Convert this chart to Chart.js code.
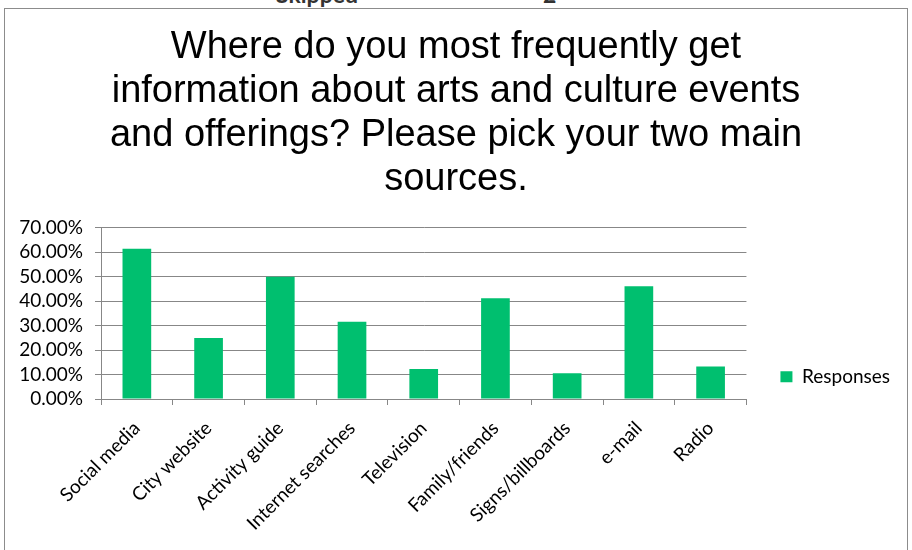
<!DOCTYPE html>
<html>
<head>
<meta charset="utf-8">
<script src="https://cdn.jsdelivr.net/npm/chart.js@4"></script>
<style>
  html, body { margin: 0; padding: 0; background: #fff; }
  #wrap { position: relative; width: 912px; height: 550px; overflow: hidden; }
  #frame { position: absolute; left: 4px; top: 8px; width: 904px; height: 600px; border: 1px solid #8c8c8c; box-sizing: border-box; }
  .cut { position: absolute; top: -17px; font: bold 23px Lato, sans-serif; line-height: 23px; color: #333; }
  canvas { position: absolute; left: 0; top: 0; }
</style>
</head>
<body>
<div id="wrap">
  <div class="cut" style="left:276px">Skipped</div>
  <div class="cut" style="left:543px">2</div>
  <div id="frame"></div>
  <canvas id="sourcesChart" width="912" height="550"></canvas>
</div>
<script>
  const titleLines = [
    'Where do you most frequently get',
    'information about arts and culture events',
    'and offerings? Please pick your two main',
    'sources.'
  ];
  const sources = ['Social media', 'City website', 'Activity guide', 'Internet searches',
    'Television', 'Family/friends', 'Signs/billboards', 'e-mail', 'Radio'];
  const responses = [61.4, 24.9, 50.0, 31.6, 12.3, 41.2, 10.5, 46.1, 13.3];
  const yTicks = [0, 10, 20, 30, 40, 50, 60, 70];

  const gridGray = '#878787';
  const labelFont = { family: 'Lato, sans-serif', size: 19 };

  // the legend normally spans the whole canvas height; start it just above
  // the plot so it sits level with the lower bars
  const legendBeside = {
    id: 'legendBeside',
    afterLayout(chart) {
      chart.legend.top = chart.chartArea.top - 24;
    }
  };

  let ctx = document.getElementById('sourcesChart').getContext('2d');

  new Chart(ctx, {
    type: 'bar',
    data: {
      labels: sources,
      datasets: [{
        label: 'Responses',
        data: responses,
        backgroundColor: '#00BF6F',
        categoryPercentage: 1,
        barPercentage: 0.4
      }]
    },
    options: {
      responsive: false,
      animation: false,
      layout: { padding: { left: 12, right: 12, top: 0, bottom: 0 } },
      plugins: {
        title: {
          display: true,
          text: titleLines,
          color: '#000',
          font: { family: '"Liberation Sans", Arial, sans-serif', size: 38, weight: 'normal', lineHeight: 1.158 },
          padding: { top: 26, bottom: 25.7 }
        },
        legend: {
          position: 'right',
          align: 'center',
          labels: {
            boxWidth: 12,
            boxHeight: 11,
            padding: 34,
            color: '#000',
            font: { family: 'Lato, sans-serif', size: 19 }
          }
        },
        tooltip: { enabled: false }
      },
      scales: {
        x: {
          grid: { drawOnChartArea: false, drawTicks: true, tickLength: 6, color: gridGray },
          border: { color: gridGray },
          ticks: { color: '#000', font: labelFont, autoSkip: false, maxRotation: 45, minRotation: 45, padding: 12 },
          afterFit: scale => { scale.height = 151; }
        },
        y: {
          min: 0,
          max: 70,
          afterBuildTicks: scale => { scale.ticks = yTicks.map(v => ({ value: v })); },
          grid: { color: gridGray, tickLength: 6 },
          border: { color: gridGray },
          ticks: { color: '#000', font: labelFont, autoSkip: false, padding: 12, callback: v => v.toFixed(2) + '%' },
          afterFit: scale => { scale.width = 89; }
        }
      }
    },
    plugins: [legendBeside]
  });
</script>
</body>
</html>
